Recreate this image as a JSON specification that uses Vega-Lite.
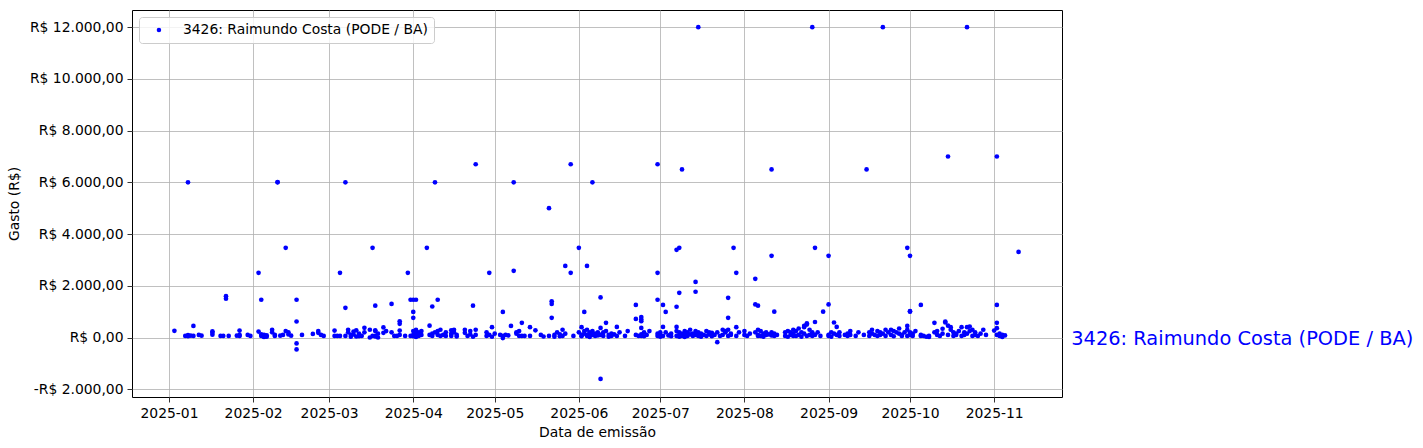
{
  "$schema": "https://vega.github.io/schema/vega-lite/v6.json",
  "autosize": "none",
  "width": 930,
  "height": 387,
  "padding": {"left": 132, "top": 10, "right": 361, "bottom": 51},
  "background": "white",
  "config": {
    "font": "DejaVu Sans",
    "view": {"stroke": "black", "strokeWidth": 1},
    "locale": {"number": {"decimal": ",", "thousands": ".", "grouping": [3], "currency": ["R$ ", ""], "minus": "-"}},
    "axis": {
      "domain": false, "grid": true, "gridColor": "#b0b0b0", "gridWidth": 0.8,
      "tickColor": "black", "tickSize": 5, "tickWidth": 0.8, "labelPadding": 4,
      "labelFontSize": 13.9, "labelColor": "black", "titleFontSize": 13.9,
      "titleFontWeight": "normal", "titleColor": "black", "zindex": 1
    }
  },
  "datasets": {
    "gastos": [
      {"d":"2025-01-03","v":260},{"d":"2025-01-07","v":60},{"d":"2025-01-08","v":90},{"d":"2025-01-08","v":50},{"d":"2025-01-08","v":6000},{"d":"2025-01-09","v":70},{"d":"2025-01-10","v":450},{"d":"2025-01-10","v":60},
      {"d":"2025-01-12","v":100},{"d":"2025-01-13","v":70},{"d":"2025-01-17","v":240},{"d":"2025-01-17","v":180},{"d":"2025-01-17","v":110},{"d":"2025-01-20","v":60},{"d":"2025-01-21","v":60},
      {"d":"2025-01-22","v":1600},{"d":"2025-01-22","v":1500},{"d":"2025-01-23","v":60},{"d":"2025-01-26","v":70},{"d":"2025-01-27","v":270},{"d":"2025-01-27","v":100},{"d":"2025-01-27","v":60},
      {"d":"2025-01-30","v":100},{"d":"2025-01-31","v":60},
      {"d":"2025-02-03","v":2500},{"d":"2025-02-03","v":230},{"d":"2025-02-04","v":1460},{"d":"2025-02-04","v":120},{"d":"2025-02-04","v":60},{"d":"2025-02-05","v":40},{"d":"2025-02-05","v":100},{"d":"2025-02-05","v":20},
      {"d":"2025-02-06","v":30},{"d":"2025-02-06","v":80},{"d":"2025-02-08","v":300},{"d":"2025-02-08","v":200},{"d":"2025-02-09","v":100},{"d":"2025-02-09","v":60},{"d":"2025-02-10","v":6000},{"d":"2025-02-10","v":6010},
      {"d":"2025-02-11","v":70},{"d":"2025-02-12","v":100},{"d":"2025-02-13","v":250},{"d":"2025-02-13","v":3470},{"d":"2025-02-14","v":200},{"d":"2025-02-14","v":120},{"d":"2025-02-15","v":70},
      {"d":"2025-02-17","v":1460},{"d":"2025-02-17","v":620},{"d":"2025-02-17","v":-230},{"d":"2025-02-17","v":-460},{"d":"2025-02-19","v":100},{"d":"2025-02-23","v":140},
      {"d":"2025-02-25","v":250},{"d":"2025-02-25","v":180},{"d":"2025-02-26","v":100},{"d":"2025-02-27","v":60},
      {"d":"2025-03-03","v":270},{"d":"2025-03-03","v":60},{"d":"2025-03-04","v":60},{"d":"2025-03-05","v":2500},{"d":"2025-03-05","v":60},{"d":"2025-03-07","v":6000},{"d":"2025-03-07","v":1150},{"d":"2025-03-07","v":60},
      {"d":"2025-03-08","v":300},{"d":"2025-03-08","v":200},{"d":"2025-03-09","v":100},{"d":"2025-03-09","v":30},{"d":"2025-03-10","v":230},{"d":"2025-03-10","v":120},{"d":"2025-03-11","v":40},{"d":"2025-03-11","v":280},
      {"d":"2025-03-12","v":150},{"d":"2025-03-12","v":50},{"d":"2025-03-13","v":60},{"d":"2025-03-14","v":375},{"d":"2025-03-14","v":200},{"d":"2025-03-16","v":300},{"d":"2025-03-16","v":0},
      {"d":"2025-03-17","v":3470},{"d":"2025-03-17","v":60},{"d":"2025-03-18","v":1230},{"d":"2025-03-18","v":40},{"d":"2025-03-18","v":60},{"d":"2025-03-18","v":280},{"d":"2025-03-18","v":250},
      {"d":"2025-03-19","v":0},{"d":"2025-03-19","v":150},{"d":"2025-03-21","v":180},{"d":"2025-03-21","v":390},{"d":"2025-03-22","v":250},{"d":"2025-03-24","v":1300},{"d":"2025-03-24","v":200},
      {"d":"2025-03-25","v":60},{"d":"2025-03-26","v":60},{"d":"2025-03-27","v":630},{"d":"2025-03-27","v":530},{"d":"2025-03-27","v":270},{"d":"2025-03-27","v":100},{"d":"2025-03-29","v":60},
      {"d":"2025-03-30","v":2500},{"d":"2025-03-31","v":1460},{"d":"2025-03-31","v":60},
      {"d":"2025-04-01","v":990},{"d":"2025-04-01","v":760},{"d":"2025-04-01","v":1460},{"d":"2025-04-02","v":1460},{"d":"2025-04-01","v":250},{"d":"2025-04-01","v":100},{"d":"2025-04-01","v":50},
      {"d":"2025-04-02","v":300},{"d":"2025-04-02","v":180},{"d":"2025-04-02","v":20},{"d":"2025-04-02","v":150},{"d":"2025-04-03","v":60},{"d":"2025-04-03","v":200},{"d":"2025-04-04","v":100},{"d":"2025-04-04","v":250},
      {"d":"2025-04-06","v":3470},{"d":"2025-04-07","v":460},{"d":"2025-04-07","v":100},{"d":"2025-04-08","v":1200},{"d":"2025-04-08","v":150},{"d":"2025-04-08","v":60},{"d":"2025-04-09","v":6000},{"d":"2025-04-09","v":200},
      {"d":"2025-04-10","v":1460},{"d":"2025-04-10","v":250},{"d":"2025-04-10","v":100},{"d":"2025-04-11","v":60},{"d":"2025-04-11","v":300},{"d":"2025-04-12","v":100},{"d":"2025-04-13","v":200},{"d":"2025-04-13","v":60},
      {"d":"2025-04-15","v":280},{"d":"2025-04-15","v":150},{"d":"2025-04-15","v":60},{"d":"2025-04-16","v":300},{"d":"2025-04-16","v":200},{"d":"2025-04-17","v":100},{"d":"2025-04-17","v":40},
      {"d":"2025-04-20","v":300},{"d":"2025-04-20","v":180},{"d":"2025-04-21","v":60},{"d":"2025-04-22","v":250},{"d":"2025-04-22","v":120},{"d":"2025-04-23","v":30},{"d":"2025-04-23","v":1230},{"d":"2025-04-24","v":300},{"d":"2025-04-24","v":100},
      {"d":"2025-04-24","v":6700},{"d":"2025-04-28","v":200},{"d":"2025-04-28","v":60},{"d":"2025-04-29","v":2500},{"d":"2025-04-29","v":100},{"d":"2025-04-30","v":400},{"d":"2025-04-30","v":30},{"d":"2025-05-01","v":150},
      {"d":"2025-05-03","v":100},{"d":"2025-05-04","v":990},{"d":"2025-05-04","v":-20},{"d":"2025-05-04","v":60},{"d":"2025-05-05","v":100},{"d":"2025-05-06","v":80},{"d":"2025-05-07","v":450},
      {"d":"2025-05-08","v":6000},{"d":"2025-05-08","v":2580},{"d":"2025-05-09","v":200},{"d":"2025-05-09","v":150},{"d":"2025-05-10","v":250},{"d":"2025-05-10","v":60},{"d":"2025-05-11","v":570},{"d":"2025-05-11","v":60},
      {"d":"2025-05-12","v":60},{"d":"2025-05-14","v":60},{"d":"2025-05-14","v":400},{"d":"2025-05-16","v":280},{"d":"2025-05-18","v":100},{"d":"2025-05-19","v":40},{"d":"2025-05-21","v":5000},{"d":"2025-05-21","v":60},
      {"d":"2025-05-22","v":1400},{"d":"2025-05-22","v":1300},{"d":"2025-05-22","v":760},{"d":"2025-05-23","v":100},{"d":"2025-05-23","v":30},{"d":"2025-05-24","v":200},{"d":"2025-05-25","v":120},{"d":"2025-05-25","v":50},
      {"d":"2025-05-26","v":60},{"d":"2025-05-26","v":300},{"d":"2025-05-27","v":2770},{"d":"2025-05-27","v":150},{"d":"2025-05-29","v":6700},{"d":"2025-05-29","v":2500},{"d":"2025-05-30","v":60},
      {"d":"2025-06-01","v":3470},{"d":"2025-06-01","v":200},{"d":"2025-06-02","v":400},{"d":"2025-06-02","v":100},{"d":"2025-06-02","v":50},{"d":"2025-06-03","v":990},{"d":"2025-06-03","v":250},{"d":"2025-06-03","v":150},
      {"d":"2025-06-04","v":2770},{"d":"2025-06-04","v":300},{"d":"2025-06-04","v":100},{"d":"2025-06-04","v":60},{"d":"2025-06-05","v":200},{"d":"2025-06-05","v":150},{"d":"2025-06-05","v":20},
      {"d":"2025-06-06","v":6000},{"d":"2025-06-06","v":250},{"d":"2025-06-06","v":100},{"d":"2025-06-07","v":60},{"d":"2025-06-07","v":150},{"d":"2025-06-08","v":200},{"d":"2025-06-08","v":80},
      {"d":"2025-06-09","v":1550},{"d":"2025-06-09","v":-1600},{"d":"2025-06-09","v":370},{"d":"2025-06-09","v":100},
      {"d":"2025-06-10","v":200},{"d":"2025-06-10","v":60},{"d":"2025-06-11","v":570},{"d":"2025-06-11","v":250},{"d":"2025-06-12","v":100},{"d":"2025-06-12","v":30},{"d":"2025-06-13","v":150},{"d":"2025-06-13","v":60},
      {"d":"2025-06-14","v":120},{"d":"2025-06-15","v":410},{"d":"2025-06-15","v":60},{"d":"2025-06-16","v":200},{"d":"2025-06-18","v":60},{"d":"2025-06-19","v":250},
      {"d":"2025-06-22","v":1260},{"d":"2025-06-22","v":720},{"d":"2025-06-22","v":100},{"d":"2025-06-23","v":60},{"d":"2025-06-24","v":790},{"d":"2025-06-24","v":700},{"d":"2025-06-24","v":630},{"d":"2025-06-24","v":370},{"d":"2025-06-24","v":120},{"d":"2025-06-24","v":60},
      {"d":"2025-06-25","v":200},{"d":"2025-06-25","v":50},{"d":"2025-06-26","v":100},{"d":"2025-06-27","v":250},
      {"d":"2025-06-30","v":6700},{"d":"2025-06-30","v":2500},{"d":"2025-06-30","v":1460},{"d":"2025-06-30","v":150},{"d":"2025-06-30","v":60},
      {"d":"2025-07-01","v":200},{"d":"2025-07-01","v":100},{"d":"2025-07-01","v":30},{"d":"2025-07-02","v":1260},{"d":"2025-07-02","v":410},{"d":"2025-07-02","v":60},{"d":"2025-07-03","v":990},{"d":"2025-07-03","v":200},
      {"d":"2025-07-04","v":80},{"d":"2025-07-05","v":150},{"d":"2025-07-05","v":50},{"d":"2025-07-07","v":1190},{"d":"2025-07-07","v":3390},{"d":"2025-07-07","v":410},{"d":"2025-07-07","v":250},{"d":"2025-07-07","v":60},
      {"d":"2025-07-08","v":3470},{"d":"2025-07-08","v":1730},{"d":"2025-07-08","v":100},{"d":"2025-07-08","v":200},{"d":"2025-07-08","v":30},{"d":"2025-07-09","v":6500},{"d":"2025-07-09","v":150},{"d":"2025-07-09","v":60},
      {"d":"2025-07-10","v":250},{"d":"2025-07-10","v":100},{"d":"2025-07-10","v":20},{"d":"2025-07-11","v":200},{"d":"2025-07-11","v":60},{"d":"2025-07-12","v":120},{"d":"2025-07-12","v":300},{"d":"2025-07-13","v":150},{"d":"2025-07-13","v":60},
      {"d":"2025-07-14","v":2150},{"d":"2025-07-14","v":1770},{"d":"2025-07-14","v":250},{"d":"2025-07-14","v":100},{"d":"2025-07-15","v":12000},{"d":"2025-07-15","v":60},{"d":"2025-07-15","v":200},
      {"d":"2025-07-16","v":150},{"d":"2025-07-16","v":30},{"d":"2025-07-17","v":100},{"d":"2025-07-18","v":250},{"d":"2025-07-18","v":60},{"d":"2025-07-19","v":200},{"d":"2025-07-19","v":120},
      {"d":"2025-07-20","v":50},{"d":"2025-07-20","v":180},{"d":"2025-07-21","v":100},{"d":"2025-07-22","v":-180},{"d":"2025-07-22","v":200},{"d":"2025-07-23","v":60},{"d":"2025-07-24","v":300},{"d":"2025-07-24","v":100},
      {"d":"2025-07-25","v":250},{"d":"2025-07-25","v":200},{"d":"2025-07-26","v":1535},{"d":"2025-07-26","v":760},{"d":"2025-07-26","v":300},{"d":"2025-07-26","v":60},{"d":"2025-07-27","v":150},{"d":"2025-07-27","v":100},
      {"d":"2025-07-28","v":3470},{"d":"2025-07-29","v":2500},{"d":"2025-07-29","v":400},{"d":"2025-07-29","v":60},{"d":"2025-07-30","v":200},
      {"d":"2025-08-01","v":100},{"d":"2025-08-01","v":250},{"d":"2025-08-02","v":60},{"d":"2025-08-03","v":150},{"d":"2025-08-05","v":2270},{"d":"2025-08-05","v":1280},{"d":"2025-08-05","v":200},{"d":"2025-08-06","v":1230},{"d":"2025-08-06","v":60},
      {"d":"2025-08-06","v":300},{"d":"2025-08-06","v":100},{"d":"2025-08-07","v":250},{"d":"2025-08-07","v":60},{"d":"2025-08-08","v":150},{"d":"2025-08-08","v":30},{"d":"2025-08-09","v":200},{"d":"2025-08-09","v":100},{"d":"2025-08-10","v":120},
      {"d":"2025-08-11","v":3160},{"d":"2025-08-11","v":6500},{"d":"2025-08-11","v":80},{"d":"2025-08-11","v":200},{"d":"2025-08-12","v":1000},{"d":"2025-08-12","v":150},{"d":"2025-08-12","v":60},{"d":"2025-08-13","v":100},
      {"d":"2025-08-16","v":200},{"d":"2025-08-16","v":60},{"d":"2025-08-17","v":250},{"d":"2025-08-17","v":30},{"d":"2025-08-18","v":100},{"d":"2025-08-18","v":200},
      {"d":"2025-08-19","v":300},{"d":"2025-08-19","v":60},{"d":"2025-08-19","v":150},{"d":"2025-08-20","v":250},{"d":"2025-08-20","v":60},{"d":"2025-08-21","v":100},{"d":"2025-08-21","v":350},
      {"d":"2025-08-22","v":200},{"d":"2025-08-22","v":30},{"d":"2025-08-23","v":450},{"d":"2025-08-23","v":400},{"d":"2025-08-23","v":150},{"d":"2025-08-24","v":550},{"d":"2025-08-24","v":500},{"d":"2025-08-24","v":60},
      {"d":"2025-08-25","v":100},{"d":"2025-08-25","v":300},{"d":"2025-08-26","v":12000},{"d":"2025-08-26","v":200},{"d":"2025-08-26","v":60},{"d":"2025-08-27","v":3470},{"d":"2025-08-27","v":600},{"d":"2025-08-27","v":100},
      {"d":"2025-08-28","v":200},{"d":"2025-08-29","v":60},{"d":"2025-08-30","v":1000},
      {"d":"2025-09-01","v":3160},{"d":"2025-09-01","v":1280},{"d":"2025-09-01","v":100},{"d":"2025-09-01","v":60},{"d":"2025-09-02","v":200},{"d":"2025-09-02","v":30},{"d":"2025-09-03","v":580},{"d":"2025-09-03","v":150},
      {"d":"2025-09-04","v":410},{"d":"2025-09-04","v":100},{"d":"2025-09-05","v":60},{"d":"2025-09-05","v":200},{"d":"2025-09-07","v":100},{"d":"2025-09-08","v":60},{"d":"2025-09-08","v":150},
      {"d":"2025-09-09","v":250},{"d":"2025-09-09","v":100},{"d":"2025-09-11","v":60},{"d":"2025-09-12","v":200},{"d":"2025-09-14","v":100},{"d":"2025-09-15","v":6500},
      {"d":"2025-09-16","v":200},{"d":"2025-09-16","v":60},{"d":"2025-09-17","v":300},{"d":"2025-09-17","v":150},{"d":"2025-09-18","v":100},{"d":"2025-09-19","v":250},{"d":"2025-09-19","v":60},
      {"d":"2025-09-20","v":200},{"d":"2025-09-20","v":100},{"d":"2025-09-21","v":12000},{"d":"2025-09-21","v":150},{"d":"2025-09-22","v":300},{"d":"2025-09-22","v":60},{"d":"2025-09-23","v":200},
      {"d":"2025-09-24","v":300},{"d":"2025-09-24","v":100},{"d":"2025-09-25","v":50},{"d":"2025-09-25","v":250},{"d":"2025-09-26","v":200},{"d":"2025-09-27","v":350},{"d":"2025-09-27","v":150},
      {"d":"2025-09-28","v":100},{"d":"2025-09-28","v":60},{"d":"2025-09-29","v":200},{"d":"2025-09-30","v":3470},{"d":"2025-09-30","v":450},{"d":"2025-09-30","v":300},{"d":"2025-09-30","v":60},
      {"d":"2025-10-01","v":3160},{"d":"2025-10-01","v":1000},{"d":"2025-10-01","v":1020},{"d":"2025-10-01","v":100},{"d":"2025-10-01","v":200},{"d":"2025-10-02","v":60},{"d":"2025-10-02","v":150},{"d":"2025-10-03","v":250},
      {"d":"2025-10-05","v":1260},{"d":"2025-10-05","v":100},{"d":"2025-10-05","v":60},{"d":"2025-10-06","v":60},{"d":"2025-10-07","v":30},{"d":"2025-10-08","v":20},{"d":"2025-10-08","v":60},
      {"d":"2025-10-10","v":570},{"d":"2025-10-10","v":200},{"d":"2025-10-11","v":250},{"d":"2025-10-11","v":100},{"d":"2025-10-12","v":60},{"d":"2025-10-13","v":340},{"d":"2025-10-13","v":150},
      {"d":"2025-10-14","v":580},{"d":"2025-10-14","v":620},{"d":"2025-10-15","v":7000},{"d":"2025-10-15","v":460},{"d":"2025-10-15","v":100},{"d":"2025-10-16","v":400},{"d":"2025-10-16","v":300},
      {"d":"2025-10-17","v":200},{"d":"2025-10-17","v":60},{"d":"2025-10-18","v":100},{"d":"2025-10-18","v":150},{"d":"2025-10-19","v":250},{"d":"2025-10-20","v":400},{"d":"2025-10-20","v":60},
      {"d":"2025-10-21","v":200},{"d":"2025-10-21","v":100},{"d":"2025-10-22","v":12000},{"d":"2025-10-22","v":400},{"d":"2025-10-22","v":150},{"d":"2025-10-23","v":425},{"d":"2025-10-23","v":250},
      {"d":"2025-10-24","v":300},{"d":"2025-10-24","v":60},{"d":"2025-10-25","v":100},{"d":"2025-10-25","v":200},{"d":"2025-10-26","v":60},{"d":"2025-10-27","v":150},{"d":"2025-10-28","v":300},{"d":"2025-10-29","v":100},
      {"d":"2025-11-01","v":270},{"d":"2025-11-02","v":7000},{"d":"2025-11-02","v":1260},{"d":"2025-11-02","v":570},{"d":"2025-11-02","v":360},{"d":"2025-11-02","v":100},
      {"d":"2025-11-03","v":150},{"d":"2025-11-03","v":60},{"d":"2025-11-04","v":100},{"d":"2025-11-04","v":20},{"d":"2025-11-05","v":80},{"d":"2025-11-10","v":3310}
    ],
    "rotulo": [
      {"d": "2025-11-29T10:00:00Z", "v": 0, "t": "3426: Raimundo Costa (PODE / BA)"}
    ]
  },
  "layer": [
    {
      "data": {"name": "gastos"},
      "mark": {"type": "point", "filled": true, "shape": "circle", "size": 22, "opacity": 1},
      "encoding": {
        "x": {
          "field": "d", "type": "temporal", "title": "Data de emissão",
          "scale": {"type": "utc", "domain": ["2024-12-18T09:00:00Z", "2025-11-26T00:00:00Z"], "nice": false},
          "axis": {"format": "%Y-%m", "tickCount": {"interval": "month", "step": 1}, "labelFlush": false, "labelOverlap": false, "titlePadding": 6}
        },
        "y": {
          "field": "v", "type": "quantitative", "title": "Gasto (R$)",
          "scale": {"domain": [-2300, 12665], "nice": false, "zero": false},
          "axis": {"values": [-2000, 0, 2000, 4000, 6000, 8000, 10000, 12000], "format": "$,.2f", "titlePadding": 8}
        },
        "color": {
          "datum": "3426: Raimundo Costa (PODE / BA)",
          "scale": {"range": ["#0000ff"]},
          "legend": {
            "title": null, "orient": "top-left", "offset": 7, "padding": 6,
            "fillColor": "rgba(255,255,255,0.8)", "strokeColor": "#cccccc", "cornerRadius": 3,
            "symbolSize": 20, "symbolType": "circle", "symbolOffset": 7, "labelOffset": 17,
            "labelLimit": 0, "labelFontSize": 13.9, "labelColor": "black", "labelFont": "DejaVu Sans"
          }
        }
      }
    },
    {
      "data": {"name": "rotulo"},
      "mark": {"type": "text", "align": "left", "baseline": "middle", "fontSize": 19.4, "color": "#0000ff", "font": "DejaVu Sans", "dy": 1},
      "encoding": {
        "x": {"field": "d", "type": "temporal"},
        "y": {"field": "v", "type": "quantitative"},
        "text": {"field": "t"}
      }
    }
  ]
}
